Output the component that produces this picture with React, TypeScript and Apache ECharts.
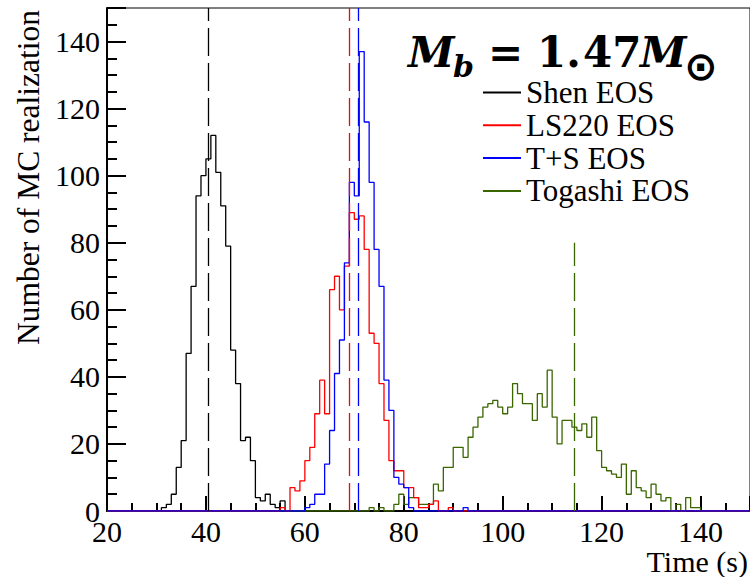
import React, { useEffect, useRef } from "react";
import * as echarts from "echarts";

// ---- data (1 s bins, counts per bin, first bin left edge given) ----
const X_MIN = 20;
const X_MAX = 150;
const Y_MAX = 150;
const xTickInterval = 20;
const yTickInterval = 20;

const seriesNames = ["Shen EOS", "LS220 EOS", "T+S EOS", "Togashi EOS"];
const seriesColors = ["#000000", "#ff0000", "#0000ff", "#3a6600"];

const shenStart = 31;
const shenCounts = [1, 2, 5, 13, 21, 47, 67, 94, 100, 105, 112, 101, 91, 79, 48, 38, 21, 22, 15, 4, 3, 5, 2, 1, 3];

const ls220Start = 55;
const ls220Counts = [1, 0, 7, 6, 9, 15, 19, 29, 39, 29, 66, 70, 60, 73, 89, 87, 88, 78, 53, 50, 38, 27, 15, 12, 12, 7, 7, 4, 1, 1, 2, 3, 0, 0, 1];

const tsStart = 60;
const tsCounts = [1, 2, 5, 5, 14, 24, 41, 51, 74, 98, 94, 137, 116, 98, 78, 67, 39, 30, 10, 8, 7, 1, 0, 0, 0, 0, 0, 0, 0, 0, 0, 0, 1];

const togashiStart = 73;
const togashiCounts = [1, 0, 1, 0, 0, 2, 5, 2, 4, 4, 2, 2, 2, 8, 6, 13, 13, 19, 19, 16, 22, 25, 28, 31, 32, 33, 31, 29, 31, 38, 35, 32, 32, 27, 35, 31, 42, 28, 20, 27, 27, 25, 24, 26, 22, 28, 18, 13, 12, 11, 10, 14, 5, 12, 7, 6, 4, 8, 5, 3, 4, 0, 2, 0, 4, 1, 1];

// dashed marker positions and their heights
const markerX = [40.5, 68.9, 70.8, 114.4];
const markerTop = [150, 150, 150, 80];

function toSteps(start: number, counts: number[]): number[][] {
  const pts: number[][] = [];
  let last = 0;
  for (let x = X_MIN; x < X_MAX; x++) {
    const i = x - start;
    const v = i >= 0 && i < counts.length ? counts[i] : 0;
    pts.push([x, v]);
    last = v;
  }
  pts.push([X_MAX, last]);
  return pts;
}

const allStarts = [shenStart, ls220Start, tsStart, togashiStart];
const allCounts = [shenCounts, ls220Counts, tsCounts, togashiCounts];

const SERIF = '"Liberation Serif", "Times New Roman", serif';

export default function App() {
  const ref = useRef<HTMLDivElement>(null);

  useEffect(() => {
    document.body.style.margin = "0";
    if (!ref.current) return;
    const chart = echarts.init(ref.current, undefined, { renderer: "svg" });

    const drawOrder = [0, 3, 1, 2];
    const series = drawOrder.map((k) => ({
      name: seriesNames[k],
      type: "line",
      step: "end",
      showSymbol: false,
      symbol: "none",
      color: seriesColors[k],
      lineStyle: { width: 1.3, color: seriesColors[k] },
      data: toSteps(allStarts[k], allCounts[k]),
      markLine: {
        silent: true,
        symbol: "none",
        label: { show: false },
        lineStyle: { type: [28, 7], width: 1.3, color: seriesColors[k] },
        data: [[{ coord: [markerX[k], 0] }, { coord: [markerX[k], markerTop[k]] }]],
      },
    }));

    const titleFont = '"DejaVu Serif", serif';

    chart.setOption({
      animation: false,
      backgroundColor: "#ffffff",
      grid: {
        left: 107,
        right: 0,
        top: 8,
        bottom: 66,
        show: true,
        borderColor: "#000",
        borderWidth: 1,
        backgroundColor: "transparent",
        outerBoundsMode: "none",
      },
      xAxis: {
        type: "value",
        min: X_MIN,
        max: X_MAX,
        interval: xTickInterval,
        axisLine: { show: true, lineStyle: { color: "#000", width: 2 } },
        axisTick: { show: true, inside: true, length: 15, lineStyle: { color: "#000", width: 2 } },
        minorTick: { show: true, splitNumber: 4, length: 8, lineStyle: { color: "#000", width: 2 } },
        splitLine: { show: false },
        axisLabel: {
          show: true,
          margin: 6,
          showMaxLabel: false,
          color: "#000",
          fontSize: 30,
          lineHeight: 28,
          fontFamily: SERIF,
        },
      },
      yAxis: {
        type: "value",
        min: 0,
        max: Y_MAX,
        interval: yTickInterval,
        axisLine: { show: true, lineStyle: { color: "#000", width: 2 } },
        axisTick: { show: true, inside: true, length: 19, lineStyle: { color: "#000", width: 2 } },
        minorTick: { show: true, splitNumber: 4, length: 10, lineStyle: { color: "#000", width: 2 } },
        splitLine: { show: false },
        axisLabel: {
          show: true,
          margin: 7,
          showMaxLabel: false,
          color: "#000",
          fontSize: 30,
          fontFamily: SERIF,
        },
      },
      legend: {
        show: true,
        orient: "vertical",
        left: 478,
        top: 72,
        itemWidth: 38,
        itemHeight: 2,
        itemGap: 1.8,
        icon: "rect",
        data: seriesNames,
        textStyle: { color: "#000", fontSize: 31, fontFamily: SERIF, lineHeight: 31 },
      },
      graphic: [
        {
          type: "text",
          x: 28,
          y: 10,
          rotation: Math.PI / 2,
          style: {
            text: "Number of MC realization",
            font: `31.5px ${SERIF}`,
            align: "right",
            verticalAlign: "middle",
            fill: "#000",
          },
        },
        {
          type: "text",
          x: 748,
          y: 561,
          style: {
            text: "Time (s)",
            font: `30px ${SERIF}`,
            lineHeight: 26,
            align: "right",
            verticalAlign: "middle",
            fill: "#000",
          },
        },
        { type: "text", x: 408, y: 52, style: { text: "M", font: `italic bold 42px ${titleFont}`, verticalAlign: "middle", fill: "#000" } },
        { type: "text", x: 453, y: 66, style: { text: "b", font: `italic bold 30px ${titleFont}`, verticalAlign: "middle", fill: "#000" } },
        { type: "text", x: 488, y: 52, style: { text: "=", font: `bold 42px ${titleFont}`, verticalAlign: "middle", fill: "#000" } },
        { type: "text", x: 537, y: 52, style: { text: "1.", font: `bold 42px ${titleFont}`, verticalAlign: "middle", fill: "#000" } },
        { type: "text", x: 583, y: 52, style: { text: "47", font: `bold 42px ${titleFont}`, verticalAlign: "middle", fill: "#000" } },
        { type: "text", x: 640, y: 52, style: { text: "M", font: `italic bold 42px ${titleFont}`, verticalAlign: "middle", fill: "#000" } },
        { type: "text", x: 684, y: 66, style: { text: "\u2299", font: `bold 40px "DejaVu Sans", sans-serif`, verticalAlign: "middle", fill: "#000" } },
      ],
      series,
    });

    return () => {
      chart.dispose();
    };
  }, []);

  return <div ref={ref} style={{ width: 750, height: 577 }} />;
}
